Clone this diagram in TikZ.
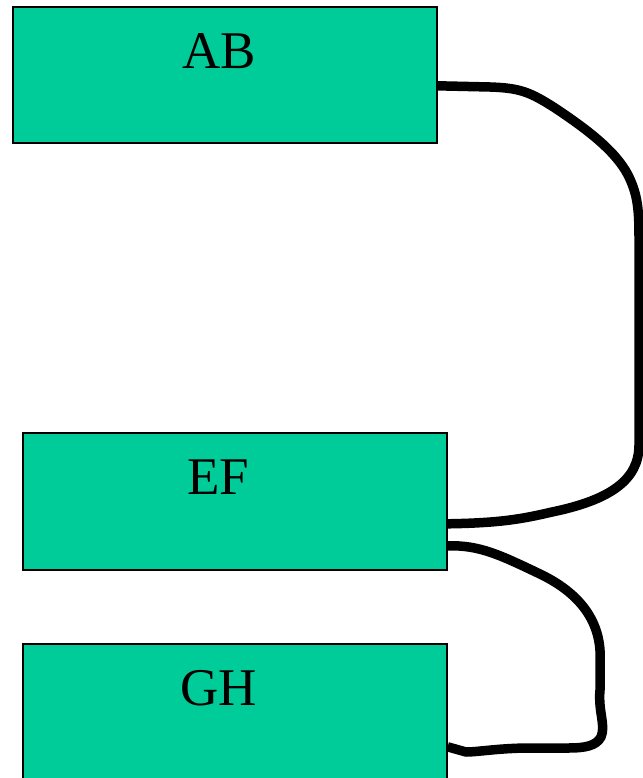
\documentclass[tikz,border=0pt]{standalone}
\usepackage{fontspec}
\setmainfont{Liberation Serif}
\definecolor{boxgreen}{HTML}{00CC99}
\begin{document}
\begin{tikzpicture}[x=1pt,y=-1pt,
  box/.style={draw=black,line width=1.6pt,fill=boxgreen,rectangle,minimum width=424pt,inner sep=0pt,anchor=north west},
  lbl/.style={anchor=base,font=\fontsize{53}{53}\selectfont,inner sep=0pt},
  wire/.style={draw=black,line width=9.5pt,line join=round}]
\useasboundingbox (0,0) rectangle (642,778);
\node[box,minimum height=136pt] (ab) at (12,6) {};
\node[box,minimum height=137pt] (ef) at (22,432) {};
\node[box,minimum height=140pt] (gh) at (22,643) {};
\node[lbl] (abt) at (219,69) {AB};
\node[lbl] (eft) at (218,494) {EF};
\node[lbl] (ght) at (219,705) {GH};
\draw[wire] ([yshift=-11pt]ab.east) -- (490,87) .. controls (520,88) and (530,92) .. (555,108) .. controls (585,128) and (615,150) .. (628,175) .. controls (638,195) and (639,210) .. (639,240) -- (639,445) .. controls (639,480) and (610,500) .. (552,512) .. controls (522,519) and (500,523) .. ([yshift=-22.5pt]ef.east);
\draw[wire] ([yshift=-44.5pt]ef.east) .. controls (480,545) and (500,555) .. (540,574) .. controls (588,597) and (602,630) .. (600,662) -- (600,690) .. controls (598,712) and (606,725) .. (601,737) .. controls (596,746) and (585,748) .. (568,748) -- (530,748) .. controls (500,748) and (478,752) .. (466,752) -- ([yshift=-33pt]gh.east);
\end{tikzpicture}
\end{document}
